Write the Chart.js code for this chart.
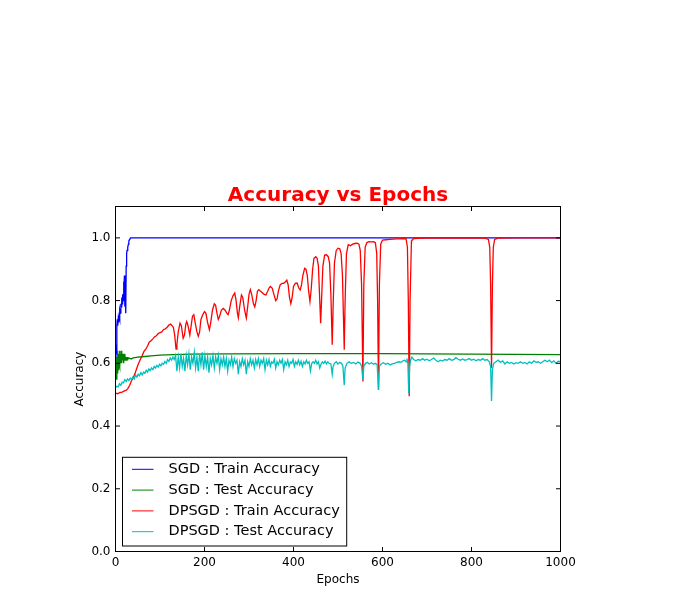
<!DOCTYPE html>
<html lang="en">
<head>
<meta charset="UTF-8">
<title>Accuracy vs Epochs</title>
<style>
  body { margin: 0; background: #fff; }
  canvas { display: block; }
</style>
</head>
<body>
<canvas id="accChart" width="680" height="595"></canvas>
<script src="https://cdn.jsdelivr.net/npm/chart.js"></script>
<script>
// axis ticks
const xTicks = [0, 200, 400, 600, 800, 1000];
const yTicks = [0.0, 0.2, 0.4, 0.6, 0.8, 1.0];

const seriesLabels = ['SGD : Train Accuracy', 'SGD : Test Accuracy', 'DPSGD : Train Accuracy', 'DPSGD : Test Accuracy'];

// SGD train
const sgdTrainEpochs = [0,1,2,3,4,5,6,7,8,9, 10,11,12,13,14,15,16,17,18,19,
  20,21,22,23,24,25,26,27,28,29, 30,32,34,36,38,1000];
const sgdTrainAcc = [0.60,0.66,0.63,0.72,0.74,0.72,0.74,0.73,0.75,0.74,
  0.77,0.76,0.79,0.78,0.81,0.79,0.82,0.80,0.86,0.81,
  0.88,0.78,0.86,0.76,0.91,0.95,0.96,0.96,0.97,0.98,
  0.99,0.995,1.0,1.0,1.0,1.0];

// SGD test
const sgdTestEpochs = [0,1,2,3,4,5,6,7,8,9, 10,11,12,13,14,15,16,17,18,19,
  20,21,22,23,24,25,26,27,28, 30,35,40,50,60,80,100,130,170,250,400,600,800,1000];
const sgdTestAcc = [0.56,0.60,0.55,0.62,0.57,0.64,0.58,0.63,0.60,0.64,
  0.59,0.63,0.60,0.64,0.60,0.63,0.61,0.63,0.60,0.63,
  0.61,0.63,0.61,0.62,0.61,0.62,0.612,0.62,0.613,
  0.617,0.614,0.617,0.620,0.621,0.624,0.626,0.628,0.629,0.630,0.631,0.631,0.629,0.628];

// DPSGD train
const dpTrainEpochs = [
  0,5,10,15,20,25,28,32,36,40,
  44,48,52,56,60,64,68,72,76,80,
  84,88,92,96,100,104,108,112,116,120,
  124,127,130,133,136,138,141,145,148,152,
  155,158,160,163,167,170,173,176,179,183,
  186,189,192,196,200,203,207,211,214,218,
  222,225,228,231,234,238,242,246,250,253,
  256,260,264,268,271,274,276,279,283,286,
  290,294,297,300,303,306,310,313,316,319,
  322,326,330,334,338,342,345,348,352,356,
  360,363,366,370,374,378,382,385,388,391,
  394,397,400,404,408,412,415,418,421,425,
  428,431,434,437,440,443,446,450,453,456,
  459,461,463,466,470,474,478,481,484,487,
  489,492,496,500,504,507,510,514,516,519,
  523,528,533,538,543,547,550,553,556,558,
  561,565,570,575,580,584,587,589,591,593,
  596,600,608,616,624,632,640,648,653,656,
  658,660,662,665,670,690,720,760,800,830,
  838,841,843,845,847,849,852,860,900,1000];
const dpTrainAcc = [
  0.505,0.503,0.507,0.508,0.512,0.515,0.52,0.53,0.545,0.555,
  0.568,0.585,0.60,0.613,0.625,0.638,0.645,0.655,0.668,0.672,
  0.678,0.685,0.688,0.695,0.698,0.70,0.708,0.71,0.715,0.722,
  0.725,0.72,0.715,0.69,0.645,0.66,0.70,0.728,0.72,0.68,
  0.69,0.725,0.733,0.72,0.69,0.72,0.75,0.755,0.73,0.70,
  0.686,0.70,0.74,0.755,0.765,0.76,0.73,0.707,0.73,0.77,
  0.79,0.785,0.76,0.74,0.75,0.77,0.775,0.77,0.76,0.755,
  0.77,0.80,0.815,0.824,0.80,0.76,0.745,0.78,0.818,0.81,
  0.77,0.744,0.78,0.82,0.835,0.82,0.79,0.78,0.80,0.83,
  0.835,0.83,0.825,0.82,0.818,0.83,0.84,0.845,0.84,0.82,
  0.80,0.805,0.83,0.85,0.855,0.855,0.86,0.865,0.85,0.81,
  0.79,0.81,0.845,0.855,0.856,0.84,0.834,0.85,0.88,0.903,
  0.90,0.88,0.83,0.797,0.84,0.90,0.935,0.94,0.935,0.91,
  0.80,0.728,0.80,0.91,0.945,0.946,0.94,0.92,0.82,0.659,
  0.78,0.92,0.96,0.967,0.965,0.95,0.88,0.643,0.80,0.95,
  0.978,0.975,0.98,0.982,0.983,0.98,0.96,0.85,0.542,0.85,
  0.97,0.985,0.988,0.987,0.988,0.985,0.95,0.80,0.516,0.85,
  0.98,0.993,0.994,0.995,0.996,0.997,0.997,0.998,0.997,0.97,
  0.80,0.495,0.80,0.99,0.998,0.999,0.999,0.999,0.999,0.999,
  0.995,0.97,0.85,0.585,0.85,0.97,0.995,0.999,1.0,1.0];

// DPSGD test: every 3 epochs up to 480, then read points
const dpTestEpochs = Array.from({ length: 161 }, (_, i) => i * 3).concat([
  484,487,489,492,496,500,504,508,511,514,
  516,520,525,530,535,540,545,550,553,556,
  558,562,566,570,575,580,584,588,591,593,
  597,602,607,612,617,622,627,632,637,642,
  646,650,653,655,657,659,661,663,666,670,
  675,680,685,690,695,700,705,710,715,720,
  725,730,735,740,745,750,755,760,765,770,
  775,780,785,790,795,800,805,810,815,820,
  825,830,835,840,843,845,847,850,855,860,
  865,870,875,880,885,890,895,900,905,910,
  915,920,925,930,935,940,945,950,955,960,
  965,970,975,980,985,990,995,1000]);
const dpTestAcc = [
  0.522,0.527,0.525,0.535,0.53,0.54,0.538,0.548,0.542,0.55,
  0.545,0.553,0.548,0.556,0.55,0.562,0.556,0.565,0.56,0.57,
  0.563,0.572,0.568,0.578,0.572,0.582,0.577,0.585,0.58,0.59,
  0.585,0.593,0.588,0.597,0.592,0.60,0.597,0.606,0.60,0.612,
  0.606,0.617,0.61,0.62,0.612,
  0.625,0.575,0.62,0.585,0.63,0.59,0.615,0.575,0.625,0.595,
  0.63,0.58,0.62,0.60,0.635,0.585,0.62,0.575,0.63,0.595,
  0.635,0.58,0.625,0.59,0.62,0.57,0.615,0.595,0.625,0.585,
  0.62,0.60,0.625,0.58,0.615,0.595,0.62,0.59,0.615,0.575,
  0.61,0.595,0.62,0.59,0.615,0.60,0.61,0.565,0.605,0.59,
  0.615,0.595,0.61,0.565,0.605,0.59,0.615,0.595,0.61,0.585,
  0.612,0.595,0.615,0.59,0.61,0.60,0.615,0.58,0.61,0.595,
  0.612,0.59,0.605,0.60,0.613,0.585,0.605,0.595,0.61,0.60,
  0.612,0.58,0.605,0.595,0.61,0.59,0.605,0.60,0.612,0.59,
  0.605,0.597,0.61,0.595,0.607,0.59,0.605,0.598,0.61,0.60,
  0.605,0.575,0.60,0.605,0.60,0.61,0.598,0.605,0.585,0.598,
  0.605,0.60,0.607,0.598,0.605,0.60,
  0.598,0.565,0.59,0.60,0.605,0.598,0.603,0.60,0.59,0.53,
  0.585,0.60,0.605,0.60,0.603,0.598,0.604,0.60,0.59,0.548,
  0.59,0.60,0.603,0.598,0.602,0.597,0.60,0.595,0.516,0.59,
  0.598,0.602,0.597,0.60,0.595,0.598,0.60,0.603,0.605,0.603,
  0.608,0.61,0.605,0.615,0.60,0.505,0.59,0.61,0.62,0.612,
  0.608,0.612,0.61,0.615,0.61,0.613,0.608,0.612,0.617,0.61,
  0.605,0.61,0.607,0.612,0.61,0.615,0.61,0.612,0.618,0.613,
  0.61,0.614,0.61,0.612,0.615,0.61,0.613,0.608,0.612,0.61,
  0.615,0.61,0.612,0.605,0.59,0.48,0.58,0.60,0.605,0.61,
  0.603,0.608,0.598,0.605,0.60,0.603,0.598,0.602,0.60,0.605,
  0.60,0.603,0.598,0.605,0.60,0.608,0.603,0.605,0.60,0.605,
  0.61,0.605,0.61,0.602,0.608,0.60,0.607,0.605];

const FONT = "'DejaVu Sans', 'Liberation Sans', sans-serif";

function toPoints(epochs, acc) {
  return epochs.map((e, i) => ({ x: e, y: acc[i] }));
}

function line(label, color, epochs, acc, order) {
  return {
    label: label,
    data: toPoints(epochs, acc),
    borderColor: color,
    backgroundColor: color,
    borderWidth: 1.3,
    pointRadius: 0,
    fill: false,
    tension: 0,
    order: order
  };
}

// box around plot + inward ticks on all four sides (matplotlib classic look)
const frameTicks = {
  id: 'frameTicks',
  afterDatasetsDraw(chart) {
    const { ctx, chartArea: a, scales } = chart;
    ctx.save();
    ctx.strokeStyle = '#000';
    ctx.lineWidth = 1;
    ctx.strokeRect(a.left, a.top, a.right - a.left, a.bottom - a.top);
    ctx.beginPath();
    xTicks.forEach(v => {
      const p = scales.x.getPixelForValue(v);
      ctx.moveTo(p, a.bottom); ctx.lineTo(p, a.bottom - 4.5);
      ctx.moveTo(p, a.top); ctx.lineTo(p, a.top + 4.5);
    });
    yTicks.forEach(v => {
      const p = scales.y.getPixelForValue(v);
      ctx.moveTo(a.left, p); ctx.lineTo(a.left + 4.5, p);
      ctx.moveTo(a.right, p); ctx.lineTo(a.right - 4.5, p);
    });
    ctx.stroke();
    ctx.restore();
  }
};

// legend box in lower left corner of the plot
const boxLegend = {
  id: 'boxLegend',
  afterDraw(chart) {
    const { ctx, chartArea: a } = chart;
    const sets = chart.data.datasets;
    ctx.save();
    ctx.font = '14.5px ' + FONT;
    const textW = Math.max(...sets.map(d => ctx.measureText(d.label).width));
    const rowH = 20.8;
    const left = a.left + 7;
    const bottom = a.bottom - 5.5;
    const h = rowH * sets.length + 5.5;
    const top = bottom - h;
    const w = 46 + textW + 7;
    ctx.fillStyle = '#fff';
    ctx.fillRect(left, top, w, h);
    ctx.strokeStyle = '#000';
    ctx.lineWidth = 1;
    ctx.strokeRect(left, top, w, h);
    ctx.textBaseline = 'middle';
    sets.forEach((d, i) => {
      const cy = top + 12 + i * rowH;
      ctx.strokeStyle = d.borderColor;
      ctx.beginPath();
      ctx.moveTo(left + 9.5, cy);
      ctx.lineTo(left + 31, cy);
      ctx.stroke();
      ctx.fillStyle = '#000';
      ctx.fillText(d.label, left + 46, cy);
    });
    ctx.restore();
  }
};

new Chart(document.getElementById('accChart').getContext('2d'), {
  type: 'line',
  data: {
    datasets: [
      line(seriesLabels[0], '#0000ff', sgdTrainEpochs, sgdTrainAcc, 3),
      line(seriesLabels[1], '#008000', sgdTestEpochs, sgdTestAcc, 2),
      line(seriesLabels[2], '#ff0000', dpTrainEpochs, dpTrainAcc, 1),
      line(seriesLabels[3], '#00bfbf', dpTestEpochs, dpTestAcc, 0)
    ]
  },
  options: {
    responsive: false,
    devicePixelRatio: 1,
    animation: false,
    layout: { padding: { left: 69, right: 119.5, top: 184, bottom: 3.5 } },
    plugins: {
      legend: { display: false },
      tooltip: { enabled: false },
      title: {
        display: true,
        fullSize: false,
        text: 'Accuracy vs Epochs',
        color: '#ff0000',
        font: { family: FONT, size: 20, weight: 'bold', lineHeight: 1.0 },
        padding: { top: 2, bottom: 0.5 }
      }
    },
    scales: {
      x: {
        type: 'linear',
        min: 0,
        max: 1000,
        afterBuildTicks: s => { s.ticks = xTicks.map(v => ({ value: v })); },
        afterFit: s => { s.height = 40; },
        grid: { display: false, drawTicks: false },
        border: { display: false },
        ticks: {
          padding: 4,
          color: '#000',
          maxRotation: 0,
          font: { family: FONT, size: 12 },
          callback: v => String(v)
        },
        title: {
          display: true,
          text: 'Epochs',
          color: '#000',
          font: { family: FONT, size: 12 }
        }
      },
      y: {
        min: 0,
        max: 1.1,
        afterBuildTicks: s => { s.ticks = yTicks.map(v => ({ value: v })); },
        afterFit: s => { s.width = 46.5; },
        grid: { display: false, drawTicks: false },
        border: { display: false },
        ticks: {
          padding: 5,
          color: '#000',
          font: { family: FONT, size: 12 },
          callback: v => v.toFixed(1)
        },
        title: {
          display: true,
          text: 'Accuracy',
          color: '#000',
          font: { family: FONT, size: 12 }
        }
      }
    }
  },
  plugins: [frameTicks, boxLegend]
});
</script>
</body>
</html>
